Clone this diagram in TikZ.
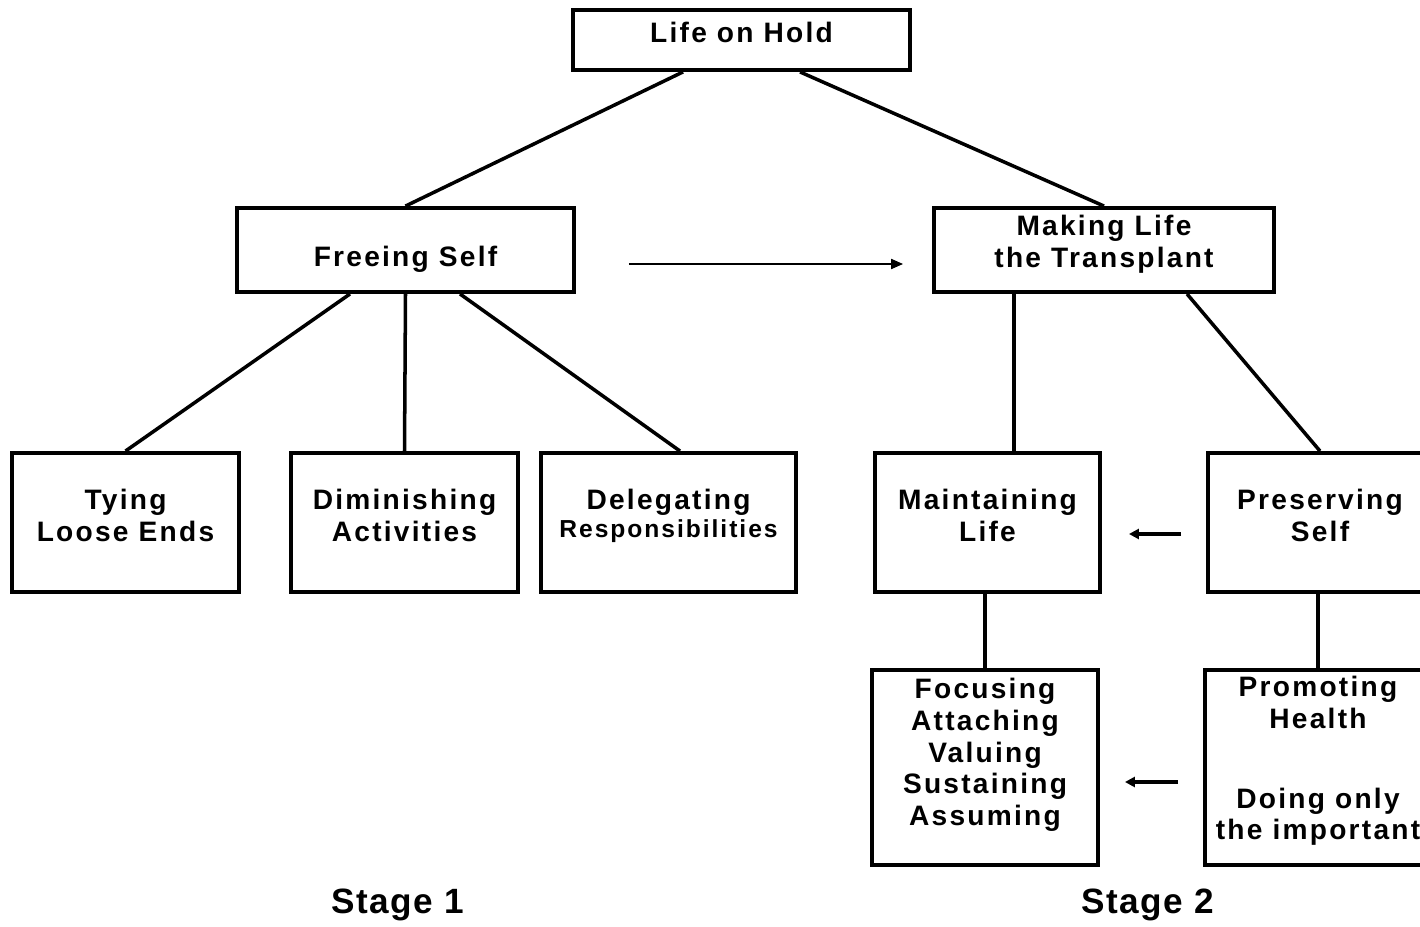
\documentclass[tikz,border=0pt]{standalone}
\usepackage{fontspec}
\setmainfont{Liberation Sans}
\newfontfamily\boxfont[LetterSpace=8]{Liberation Sans}
\newfontfamily\stagefont[LetterSpace=4]{Liberation Sans}
\usetikzlibrary{arrows.meta}
% push a box's text up or down
\newcommand{\lift}[1]{\rule[-#1]{0pt}{0pt}}
\newcommand{\sink}[1]{\rule{0pt}{#1}}

\begin{document}
\begin{tikzpicture}[
        box/.style={draw, line width=2.2pt, align=center, inner sep=0pt,
            font=\boxfont\bfseries\fontsize{16pt}{18pt}\selectfont},
        link/.style={line width=2pt},
        goes/.style={-{Triangle[length=0.24cm,width=0.2cm]}, line width=1.1pt},
        back/.style={-{Triangle[length=0.2cm,width=0.2cm]}, line width=2.2pt},
        stage/.style={font=\stagefont\bfseries\fontsize{20pt}{24pt}\selectfont}]
        \useasboundingbox (0,0) rectangle (28.4,-18.54);
        \clip (0,0) rectangle (28.4,-18.54);

        \node[box, minimum width=6.74cm, minimum height=1.2cm] (hold) at (14.83,-0.8) {Life on Hold\lift{0.32cm}};

        \node[box, minimum width=6.74cm, minimum height=1.68cm] (free) at (8.11,-5) {\sink{0.77cm}Freeing Self};
        \node[box, minimum width=6.8cm, minimum height=1.68cm] (make) at (22.08,-5) {Making Life\\the Transplant\lift{0.34cm}};

        \node[box, minimum width=4.54cm, minimum height=2.78cm] (tying) at (2.51,-10.45) {Tying\\Loose Ends\lift{0.28cm}};
        \node[box, minimum width=4.54cm, minimum height=2.78cm] (dimin) at (8.09,-10.45) {Diminishing\\Activities\lift{0.28cm}};
        \node[box, minimum width=5.1cm, minimum height=2.78cm] (deleg) at (13.37,-10.45) {Delegating\\[-2pt]{\fontsize{14pt}{16pt}\selectfont Responsibilities}\lift{0.35cm}};
        \node[box, minimum width=4.5cm, minimum height=2.78cm] (maint) at (19.75,-10.45) {Maintaining\\Life\lift{0.28cm}};
        \node[box, minimum width=4.48cm, minimum height=2.78cm] (pres) at (26.4,-10.45) {Preserving\\Self\lift{0.28cm}};

        \node[box, minimum width=4.52cm, minimum height=3.9cm] (focus) at (19.7,-15.35) {Focusing\\Attaching\\Valuing\\Sustaining\\Assuming\lift{0.62cm}};
        \node[box, minimum width=4.52cm, minimum height=3.9cm] (promo) at (26.36,-15.35) {Promoting\\Health\\[0.96cm]Doing only\\the important\lift{0.38cm}};

        \draw[link] ([xshift=-1.17cm]hold.south) -- (free.north);
        \draw[link] ([xshift=1.17cm]hold.south) -- (make.north);
        \draw[link] ([xshift=-1.11cm]free.south) -- (tying.north);
        \draw[link] (free.south) -- (dimin.north);
        \draw[link] ([xshift=1.09cm]free.south) -- ([xshift=0.23cm]deleg.north);
        \draw[link] ([xshift=0.53cm]maint.north) -- ([xshift=0.53cm]maint.north |- make.south);
        \draw[link] ([xshift=1.66cm]make.south) -- (pres.north);
        \draw[link] (focus.north |- maint.south) -- (focus.north);
        \draw[link] (promo.north |- pres.south) -- (promo.north);

        \draw[goes] ([shift={(1.06,-0.28)}]free.east) -- ([shift={(-0.58,-0.28)}]make.west);
        \draw[back] ([shift={(-0.5,-0.23)}]pres.west) -- ([shift={(0.54,-0.23)}]maint.east);
        \draw[back] ([shift={(-0.5,-0.29)}]promo.west) -- ([shift={(0.5,-0.29)}]focus.east);

        \node[stage] (stage1) at (7.96,-18.1) {Stage 1};
        \node[stage] (stage2) at (22.96,-18.1) {Stage 2};
    \end{tikzpicture}
\end{document}
